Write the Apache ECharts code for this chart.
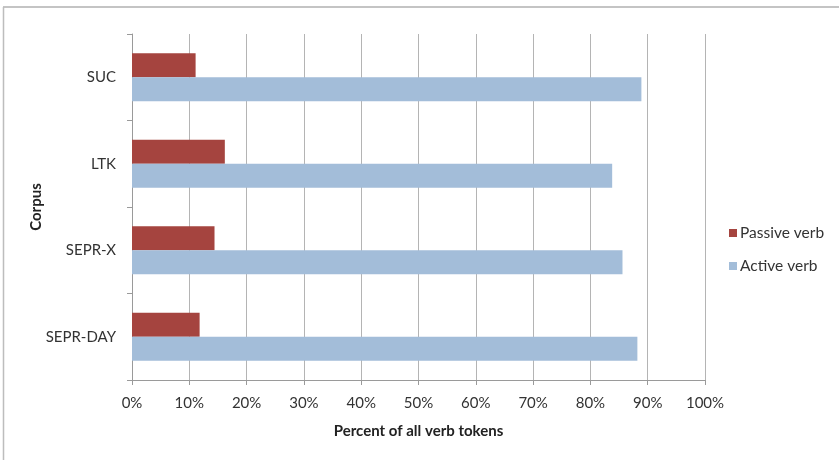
<!DOCTYPE html>
<html>
<head>
<meta charset="utf-8">
<script src="https://cdn.jsdelivr.net/npm/echarts@6/dist/echarts.min.js"></script>
<style>
  html, body { margin: 0; padding: 0; background: #fff; }
  #chart { width: 839px; height: 460px; }
</style>
</head>
<body>
<div id="chart"></div>
<script>
// Corpora, top to bottom
const corpora = ['SUC', 'LTK', 'SEPR-X', 'SEPR-DAY'];
// Share of verb tokens (%) per corpus
const passiveVerb = [11.1, 16.2, 14.4, 11.8];
const activeVerb = [88.9, 83.8, 85.6, 88.2];
const seriesNames = ['Passive verb', 'Active verb'];

const FONT = 'Lato, "Open Sans", sans-serif';
const chart = echarts.init(document.getElementById('chart'), null, { renderer: 'canvas' });

chart.setOption({
  backgroundColor: '#ffffff',
  animation: false,
  textStyle: { fontFamily: FONT },
  graphic: [
    { type: 'line', shape: { x1: 3, y1: 7, x2: 839, y2: 7 }, style: { stroke: '#c4c4c4', lineWidth: 2 } },
    { type: 'line', shape: { x1: 3.5, y1: 7, x2: 3.5, y2: 460 }, style: { stroke: '#bdbdbd', lineWidth: 1.5 } }
  ],
  grid: { left: 132, right: 134, top: 34, bottom: 80, containLabel: false },
  legend: {
    orient: 'vertical',
    left: 724,
    top: 220,
    itemWidth: 8,
    itemHeight: 8,
    itemGap: 17,
    icon: 'rect',
    data: seriesNames,
    textStyle: { fontFamily: FONT, fontSize: 15.5, color: '#333', padding: [0, 0, 0, -2] }
  },
  xAxis: {
    type: 'value',
    min: 0,
    max: 100,
    interval: 10,
    name: 'Percent of all verb tokens',
    nameLocation: 'middle',
    nameGap: 44,
    nameTextStyle: { fontFamily: FONT, fontSize: 15, fontWeight: 'bold', color: '#222' },
    axisLine: { show: true, lineStyle: { color: '#9a9a9a', width: 1 } },
    axisTick: { show: true, length: 5, lineStyle: { color: '#9a9a9a' } },
    axisLabel: { formatter: '{value}%', fontFamily: FONT, fontSize: 15, color: '#333', margin: 16 },
    splitLine: { show: true, lineStyle: { color: '#b4b4b4', width: 1 } }
  },
  yAxis: {
    type: 'category',
    inverse: true,
    data: corpora,
    name: 'Corpus',
    nameLocation: 'middle',
    nameGap: 88,
    nameMoveOverlap: false,
    nameRotate: 90,
    nameTextStyle: { fontFamily: FONT, fontSize: 15, fontWeight: 'bold', color: '#222' },
    axisLine: { show: true, lineStyle: { color: '#9a9a9a', width: 1 } },
    axisTick: { show: true, length: 5, lineStyle: { color: '#9a9a9a' } },
    axisLabel: { fontFamily: FONT, fontSize: 15, color: '#333', margin: 16 },
    splitLine: { show: false }
  },
  series: [
    {
      name: seriesNames[0],
      type: 'bar',
      data: passiveVerb,
      barWidth: 24,
      barGap: '0%',
      itemStyle: { color: '#a5443f' }
    },
    {
      name: seriesNames[1],
      type: 'bar',
      data: activeVerb,
      barWidth: 24,
      barGap: '0%',
      itemStyle: { color: '#a3bdd9' }
    }
  ]
});
</script>
</body>
</html>
